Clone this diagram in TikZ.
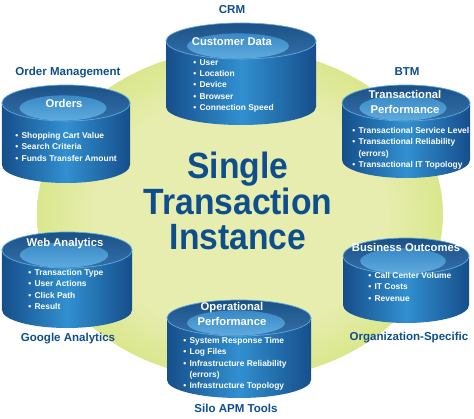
\documentclass[tikz,border=0pt]{standalone}
\usepackage{fontspec}
\setmainfont{Liberation Sans}

\definecolor{textblue}{HTML}{0F4E8C}
\definecolor{drumdark}{HTML}{164E8B}
\definecolor{drumlight}{HTML}{3190D0}
\definecolor{drumtop}{HTML}{1F609F}
\definecolor{drumrim}{HTML}{5FA9DC}
\definecolor{glowin}{HTML}{3A89C6}
\definecolor{glowout}{HTML}{5EABDE}
\definecolor{palegreen}{HTML}{E6EDAE}
\definecolor{midgreen}{HTML}{CCDF62}
\definecolor{limegreen}{HTML}{9DC425}
\pgfdeclareradialshading{greenglow}{\pgfpoint{0bp}{0bp}}{color(0bp)=(palegreen); color(18bp)=(palegreen); color(34bp)=(midgreen); color(50bp)=(limegreen)}

\def\dry{18}
% name, centre x, top y, bottom y, half width
\newcommand{\drum}[5]{%
  \coordinate (#1) at (#2,#3);
  \shade[drum side] ({#2-#5},#3) rectangle ({#2+#5},#4);
  \shade[drum side] (#2,#4) ellipse [x radius=#5, y radius=\dry];
  \shade[drum top] (#1) ellipse [x radius=#5, y radius=\dry];
  \shade[drum glow] ({#2-3},{#3+5}) ellipse [x radius={0.68*#5}, y radius={0.7*\dry}];
}
\newcommand{\itm}[1]{\makebox[4.5pt][l]{\textbullet}#1}
\newcommand{\cnt}[1]{\hspace*{4.5pt}#1}

\begin{document}
\begin{tikzpicture}[x=0.025cm, y=-0.025cm]
    \tikzstyle{drum side}=[left color=drumdark, right color=drumdark, middle color=drumlight]
    \tikzstyle{drum top}=[top color=drumtop!85!black, bottom color=drumtop!90!white, draw=drumrim, line width=0.5pt]
    \tikzstyle{drum glow}=[top color=glowin, bottom color=glowout]
    \tikzstyle{drum title}=[text=white, font=\fontsize{8}{10.5}\selectfont\bfseries, align=center]
    \tikzstyle{drum list}=[text=white, font=\fontsize{6}{8.1}\selectfont\bfseries, align=left, anchor=north west, inner sep=0pt]
    \tikzstyle{tag}=[text=textblue, font=\fontsize{8.2}{10}\selectfont\bfseries]

    \useasboundingbox (0,0) rectangle (474,419);

    % Draw the green background
    \shade[shading=greenglow] (240,214) ellipse [x radius=203, y radius=165];

    % Draw the cylinders
    \drum{cust}{241}{41}{107}{75}
    \drum{ord}{66}{103}{165}{64}
    \drum{perf}{406}{103}{160}{64}
    \drum{web}{67}{250}{310}{65}
    \drum{biz}{406}{256}{305}{63}
    \drum{ops}{239}{318}{380}{72}

    % Titles on the cylinders
    \node[drum title] (cust-t) at (232,42) {Customer Data};
    \node[drum title] (ord-t) at (64,103) {Orders};
    \node[drum title] (perf-t) at (405,102) {Transactional\\Performance};
    \node[drum title] (web-t) at (65,244) {Web Analytics};
    \node[drum title] (biz-t) at (406,247) {Business Outcomes};
    \node[drum title] (ops-t) at (232,314) {Operational\\Performance};

    % Lists on the cylinders
    \node[drum list] (cust-l) at (193,59) {\itm{User}\\\itm{Location}\\\itm{Device}\\\itm{Browser}\\\itm{Connection Speed}};
    \node[drum list] (ord-l) at (15,132) {\itm{Shopping Cart Value}\\\itm{Search Criteria}\\\itm{Funds Transfer Amount}};
    \node[drum list] (perf-l) at (352,127) {\itm{Transactional Service Level}\\\itm{Transactional Reliability}\\\cnt{(errors)}\\\itm{Transactional IT Topology}};
    \node[drum list] (web-l) at (28,269) {\itm{Transaction Type}\\\itm{User Actions}\\\itm{Click Path}\\\itm{Result}};
    \node[drum list] (biz-l) at (368,272) {\itm{Call Center Volume}\\\itm{IT Costs}\\\itm{Revenue}};
    \node[drum list] (ops-l) at (183,337) {\itm{System Response Time}\\\itm{Log Files}\\\itm{Infrastructure Reliability}\\\cnt{(errors)}\\\itm{Infrastructure Topology}};

    % Annotate the sources
    \node[tag] (crm) at (232,10) {CRM};
    \node[tag] (ordm) at (68,73) {Order Management};
    \node[tag] (btm) at (407,72) {BTM};
    \node[tag] (ga) at (68,339) {Google Analytics};
    \node[tag] (org) at (409,338) {Organization-Specific};
    \node[tag] (silo) at (236,408) {Silo APM Tools};

    % The centre text
    \node[text=textblue, font=\fontsize{26}{25.2}\selectfont\bfseries, align=center,
        xscale=0.92, transform shape] (sti) at (238,201) {Single\\Transaction\\Instance};
\end{tikzpicture}
\end{document}
